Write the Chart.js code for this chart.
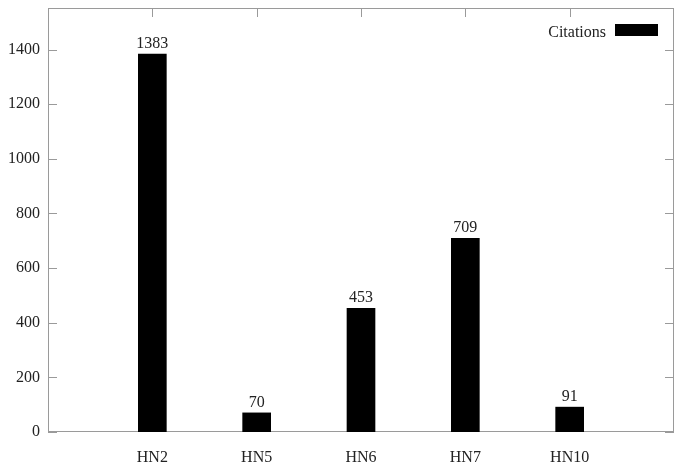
<!DOCTYPE html>
<html>
<head>
<meta charset="utf-8">
<script src="https://cdn.jsdelivr.net/npm/chart.js@4.4.0/dist/chart.umd.min.js"></script>
<style>
  html, body { margin: 0; padding: 0; background: #fff; }
  #wrap { width: 675px; height: 468px; }
</style>
</head>
<body>
<div id="wrap"><canvas id="c" width="675" height="468"></canvas></div>
<script>
const categories = ['HN2', 'HN5', 'HN6', 'HN7', 'HN10'];
const citations = [1383, 70, 453, 709, 91];
const yTickValues = [0, 200, 400, 600, 800, 1000, 1200, 1400];
const seriesName = 'Citations';

const FONT = '"Liberation Serif", "Times New Roman", serif';
const TEXT = '#222';
const FRAME = '#9a9a9a';

const framePlugin = {
  id: 'gnuframe',
  beforeDatasetsDraw(chart) {
    const { ctx, chartArea: a, scales } = chart;
    const xs = scales.x, ys = scales.y;
    ctx.save();
    ctx.strokeStyle = FRAME;
    ctx.lineWidth = 1;
    ctx.strokeRect(a.left + 0.5, a.top + 0.5, a.right - a.left - 1, a.bottom - a.top - 1);
    const tl = 9;
    ctx.beginPath();
    yTickValues.forEach(v => {
      const y = Math.round(ys.getPixelForValue(v)) + 0.5;
      ctx.moveTo(a.left, y); ctx.lineTo(a.left + tl, y);
      ctx.moveTo(a.right, y); ctx.lineTo(a.right - tl, y);
    });
    categories.forEach((c, i) => {
      const x = Math.round(xs.getPixelForValue(i + 1)) + 0.5;
      ctx.moveTo(x, a.bottom); ctx.lineTo(x, a.bottom - tl);
      ctx.moveTo(x, a.top); ctx.lineTo(x, a.top + tl);
    });
    ctx.stroke();
    ctx.restore();
  },
  afterDraw(chart) {
    const { ctx } = chart;
    ctx.save();
    // value labels
    ctx.fillStyle = TEXT;
    ctx.font = '16px ' + FONT;
    ctx.textAlign = 'center';
    ctx.textBaseline = 'alphabetic';
    const meta = chart.getDatasetMeta(0);
    meta.data.forEach((el, i) => {
      ctx.fillText(String(citations[i]), el.x, el.y - 6);
    });

    // legend (gnuplot style: text then sample on the right)
    ctx.textAlign = 'right';
    ctx.fillText(seriesName, 606, 37);
    ctx.fillStyle = '#000';
    ctx.fillRect(615, 24, 43, 12);
    ctx.restore();
  }
};

function noPad(s) { s.paddingTop = 0; s.paddingBottom = 0; s.paddingLeft = 0; s.paddingRight = 0; }

new Chart(document.getElementById('c'), {
  type: 'bar',
  data: {
    datasets: [{
      label: seriesName,
      data: categories.map((c, i) => ({ x: i + 1, y: citations[i] })),
      backgroundColor: '#000',
      borderWidth: 0,
      barThickness: 28
    }]
  },
  options: {
    responsive: false,
    animation: false,
    layout: { padding: { top: 8, right: 1, left: 0, bottom: 0 } },
    plugins: { legend: { display: false }, tooltip: { enabled: false } },
    scales: {
      x: {
        type: 'linear',
        offset: false,
        min: 0, max: 6,
        grid: { display: false, drawTicks: false, offset: false },
        border: { display: false },
        afterBuildTicks: s => { s.ticks = categories.map((c, i) => ({ value: i + 1 })); },
        afterFit: s => { s.height = 36; noPad(s); },
        ticks: {
          autoSkip: false,
          maxRotation: 0,
          padding: 16,
          color: TEXT,
          font: { family: FONT, size: 16 },
          callback: v => categories[v - 1]
        }
      },
      y: {
        min: 0, max: 1552,
        grid: { display: false, drawTicks: false },
        border: { display: false },
        afterBuildTicks: s => { s.ticks = yTickValues.map(v => ({ value: v })); },
        afterFit: s => { s.width = 48; noPad(s); },
        ticks: {
          padding: 8,
          color: TEXT,
          font: { family: FONT, size: 16 },
          callback: v => String(v)
        }
      }
    }
  },
  plugins: [framePlugin]
});
</script>
</body>
</html>
